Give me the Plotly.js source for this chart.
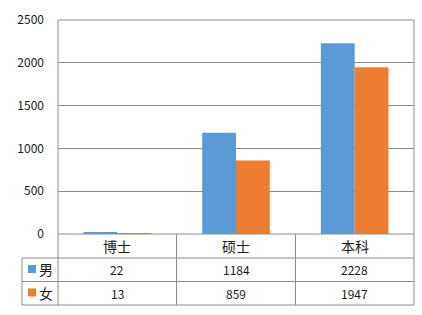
<!DOCTYPE html>
<html>
<head>
<meta charset="utf-8">
<script src="https://cdn.plot.ly/plotly-3.0.1.min.js"></script>
<style>html,body{margin:0;padding:0;background:#fff;}#chart{width:422px;height:315px;}</style>
</head>
<body>
<div id="chart"></div>
<script>
var categories = ['博士', '硕士', '本科'];
var seriesNames = ['男', '女'];
var maleValues = [22, 1184, 2228];
var femaleValues = [13, 859, 1947];
var yTicks = [0, 500, 1000, 1500, 2000, 2500];

var colors = ['#5B9BD5', '#ED7D31'];
var W = 422, H = 315;
var L = 58, R = 8, T = 20, B = 81;
var pw = W - L - R, ph = H - T - B;
function px(x) { return (x - L) / pw; }
function py(y) { return (H - B - y) / ph; }

var gridC = '#8c8c8c';
var font = 'Noto Sans CJK SC, Noto Sans, sans-serif';

var traces = [
  {type: 'bar', name: seriesNames[0], x: categories, y: maleValues, marker: {color: colors[0]}, hoverinfo: 'none'},
  {type: 'bar', name: seriesNames[1], x: categories, y: femaleValues, marker: {color: colors[1]}, hoverinfo: 'none'}
];

var shapes = [];
function line(x0, y0, x1, y1) {
  shapes.push({type: 'line', xref: 'paper', yref: 'paper', x0: px(x0), y0: py(y0), x1: px(x1), y1: py(y1),
    line: {color: gridC, width: 1}});
}
// frame and table
line(58, 20, 414, 20);
line(58, 20, 58, 305);
line(414, 20, 414, 305);
line(58, 234, 414, 234);
line(22, 258, 414, 258);
line(22, 281.5, 414, 281.5);
line(22, 305, 414, 305);
line(22, 258, 22, 305);
line(176.5, 234, 176.5, 305);
line(295.5, 234, 295.5, 305);

var rowsY = [269.5, 293];
var seriesVals = [maleValues, femaleValues];
var annotations = [];
categories.forEach(function (c, i) {
  annotations.push({xref: 'x', yref: 'paper', x: i, y: py(246.5), text: c, showarrow: false,
    font: {family: font, size: 14, color: '#1a1a1a'}, xanchor: 'center', yanchor: 'middle'});
  seriesVals.forEach(function (vals, s) {
    annotations.push({xref: 'x', yref: 'paper', x: i, y: py(rowsY[s]), text: String(vals[i]), showarrow: false,
      font: {family: font, size: 12, color: '#1a1a1a'}, xanchor: 'center', yanchor: 'middle'});
  });
});
seriesNames.forEach(function (n, s) {
  var cy = rowsY[s];
  shapes.push({type: 'rect', xref: 'paper', yref: 'paper', x0: px(28), x1: px(36), y0: py(cy - 4.5), y1: py(cy + 3.5),
    fillcolor: colors[s], line: {width: 0}});
  annotations.push({xref: 'paper', yref: 'paper', x: px(46), y: py(cy - 0.5), text: n, showarrow: false,
    font: {family: font, size: 14, color: '#1a1a1a'}, xanchor: 'center', yanchor: 'middle'});
});

var layout = {
  width: W, height: H,
  margin: {l: L, r: R, t: T, b: B, pad: 0},
  paper_bgcolor: '#fff', plot_bgcolor: '#fff',
  showlegend: false,
  barmode: 'group', bargap: 0.43, bargroupgap: 0,
  xaxis: {showticklabels: false, ticks: '', showgrid: false, zeroline: false, showline: false, fixedrange: true},
  yaxis: {range: [0, 2500], tickvals: yTicks, ticktext: yTicks.map(String), showgrid: true, gridcolor: gridC, gridwidth: 1,
    zeroline: false, showline: false, ticks: '', ticklabelstandoff: 13,
    tickfont: {family: font, size: 12, color: '#1a1a1a'}, fixedrange: true},
  shapes: shapes,
  annotations: annotations
};

Plotly.newPlot('chart', traces, layout, {displayModeBar: false, staticPlot: true});
</script>
</body>
</html>
